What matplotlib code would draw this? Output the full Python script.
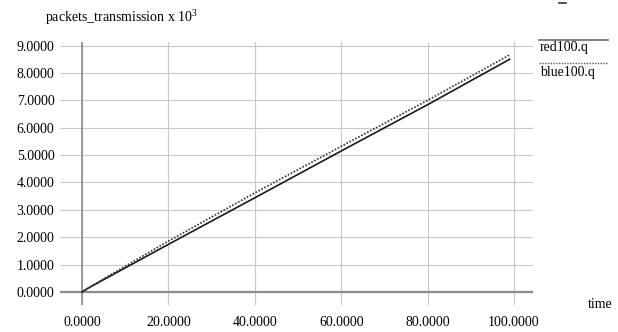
import matplotlib.pyplot as plt
import numpy as np

plt.rcParams['font.family'] = ['Liberation Serif', 'DejaVu Serif']
plt.rcParams['mathtext.fontset'] = 'custom'
plt.rcParams['mathtext.rm'] = 'Liberation Serif'

# data
t = [0, 1, 2, 5, 10, 20, 40, 60, 80, 99]
red100 = [0, 0.1, 0.19, 0.45, 0.88, 1.74, 3.44, 5.15, 6.84, 8.5]
blue100 = [0, 0.1, 0.2, 0.48, 0.94, 1.86, 3.62, 5.32, 7.0, 8.66]
xticks = [0, 20, 40, 60, 80, 100]
yticks = [0, 1, 2, 3, 4, 5, 6, 7, 8, 9]

W, H = 618, 332
fig = plt.figure(figsize=(W / 100, H / 100), dpi=100)
# axes box covers the grid lines incl. their overhang past the zero axes
ax = fig.add_axes([60 / W, (H - 305) / H, 473 / W, 263 / H])
ax.set_xlim(-5.1, 104.4)
ax.set_ylim(-0.475, 9.13)
for s in ax.spines.values():
    s.set_visible(False)

ax.set_xticks(xticks)
ax.set_xticklabels(['%.4f' % v for v in xticks])
ax.set_yticks(yticks)
ax.set_yticklabels(['%.4f' % v for v in yticks])
ax.tick_params(length=0, labelsize=10)
ax.tick_params(axis='x', pad=8)
ax.tick_params(axis='y', pad=4)
ax.grid(True, color='#c8c8c8', linewidth=0.8)
ax.axhline(0, color='#8c8c8c', linewidth=1.6)
ax.axvline(0, color='#8c8c8c', linewidth=1.2)

ax.plot(t, red100, color='#1a1a1a', linewidth=1.2, zorder=3)
ax.plot(t, blue100, color='#333333', linewidth=1.2, linestyle=(0, (1, 1)), zorder=3)

# texts and legend in pixel coords
def px(x, y):
    return x / W, 1 - y / H

fig.text(*px(45, 22), r'packets_transmission x $\mathregular{10^3}$', fontsize=10, va='baseline')
fig.text(*px(588, 304), 'time', fontsize=10, va='center')
fig.add_artist(plt.Line2D([539 / W, 608 / W], [1 - 40 / H] * 2, color='#777777', linewidth=1.3))
fig.text(*px(540, 51), 'red100.q', fontsize=10, va='baseline')
fig.add_artist(plt.Line2D([539 / W, 608 / W], [1 - 62.5 / H] * 2, color='#555555', linewidth=1.0,
                          linestyle=(0, (1, 1))))
fig.text(*px(540, 76), 'blue100.q', fontsize=10, va='baseline')
fig.add_artist(plt.Line2D([559 / W, 566 / W], [1 - 3 / H] * 2, color='#333333', linewidth=1.2))

fig.savefig('out.png', dpi=100)
